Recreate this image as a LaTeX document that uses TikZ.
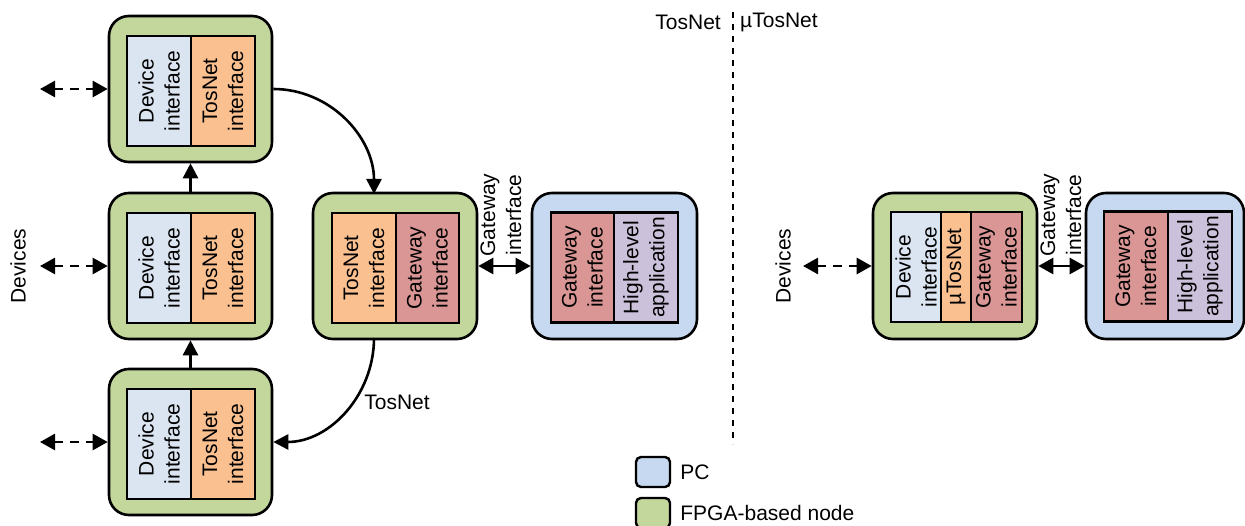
\documentclass[tikz,border=0pt]{standalone}
\usepackage{fontspec}
\setmainfont{Liberation Sans}
\usetikzlibrary{arrows.meta,positioning}

\definecolor{fpgagreen}{HTML}{C3D69B}
\definecolor{pcblue}{HTML}{C6D9F1}
\definecolor{devblue}{HTML}{DBE5F1}
\definecolor{tosorange}{HTML}{FAC090}
\definecolor{gwred}{HTML}{D99694}
\definecolor{applilac}{HTML}{CCC1DA}

\tikzset{
  nodebox/.style={draw, line width=2.6pt, rounded corners=20pt, minimum height=146pt},
  cell/.style={draw, line width=2.2pt, rotate=90, minimum width=110pt, inner sep=0pt,
    align=center, font=\fontsize{21}{26}\selectfont},
  txt/.style={inner sep=0pt, align=center, font=\fontsize{21}{26}\selectfont},
  legendbox/.style={draw, line width=2.4pt, rounded corners=5pt, minimum width=34pt, minimum height=30pt},
  arrowline/.style={-{Triangle[length=15pt,width=15pt]}, line width=2.6pt},
  botharrow/.style={{Triangle[length=15pt,width=16pt]}-{Triangle[length=15pt,width=16pt]}, line width=2.6pt},
  dasharrow/.style={botharrow, dash pattern=on 9pt off 7pt},
  divider/.style={line width=1.6pt, dash pattern=on 6pt off 6pt}
}

\begin{document}
\begin{tikzpicture}[x=1pt,y=-1pt]
  \useasboundingbox (0,0) rectangle (1245,526);

  % TosNet ring of FPGA nodes
  \node[nodebox, fill=fpgagreen, minimum width=163pt] (n1) at (190.5,89) {};
  \node[cell, fill=devblue, minimum height=64pt] (n1dev) at (159,91) {Device\\interface};
  \node[cell, fill=tosorange, minimum height=64pt] (n1tos) at (223,91) {TosNet\\interface};

  \node[nodebox, fill=fpgagreen, minimum width=163pt] (n2) at (190.5,266) {};
  \node[cell, fill=devblue, minimum height=64pt] (n2dev) at (159,268) {Device\\interface};
  \node[cell, fill=tosorange, minimum height=64pt] (n2tos) at (223,268) {TosNet\\interface};

  \node[nodebox, fill=fpgagreen, minimum width=163pt] (n3) at (190.5,442) {};
  \node[cell, fill=devblue, minimum height=64pt] (n3dev) at (159,444) {Device\\interface};
  \node[cell, fill=tosorange, minimum height=64pt] (n3tos) at (223,444) {TosNet\\interface};

  \node[nodebox, fill=fpgagreen, minimum width=164pt] (gw) at (395,266) {};
  \node[cell, fill=tosorange, minimum height=64pt] (gwtos) at (364,268) {TosNet\\interface};
  \node[cell, fill=gwred, minimum height=63pt] (gwgw) at (427.5,268) {Gateway\\interface};

  \node[nodebox, fill=pcblue, minimum width=165pt] (pc) at (614.5,266) {};
  \node[cell, fill=gwred, minimum height=63pt] (pcgw) at (582.5,267.5) {Gateway\\interface};
  \node[cell, fill=applilac, minimum height=64pt] (pcapp) at (646,267.5) {High-level\\application};

  % uTosNet
  \node[nodebox, fill=fpgagreen, minimum width=164pt] (un) at (955,266) {};
  \node[cell, fill=devblue, minimum height=50pt] (undev) at (916,267) {Device\\interface};
  \node[cell, fill=tosorange, minimum height=30pt] (untos) at (956,267) {µTosNet};
  \node[cell, fill=gwred, minimum height=51pt] (ungw) at (996.5,267) {Gateway\\interface};

  \node[nodebox, fill=pcblue, minimum width=158pt] (upc) at (1165,266) {};
  \node[cell, fill=gwred, minimum height=64pt] (upcgw) at (1136,266.5) {Gateway\\interface};
  \node[cell, fill=applilac, minimum height=64pt] (upcapp) at (1200,266.5) {High-level\\application};

  % devices
  \coordinate (dev1) at (40,89);
  \coordinate (dev2) at (40,266);
  \coordinate (dev3) at (40,442);
  \coordinate (dev4) at (803,266);
  \draw[dasharrow] (dev1) -- (n1);
  \draw[dasharrow] (dev2) -- (n2);
  \draw[dasharrow] (dev3) -- (n3);
  \draw[dasharrow] (dev4) -- (un);
  \node[txt, rotate=90] (devlbl) at (18,266) {Devices};
  \node[txt, rotate=90] (udevlbl) at (783,266) {Devices};

  % ring connections
  \coordinate (gwin) at (374,194);
  \coordinate (gwout) at (374,338);
  \draw[arrowline] (n3) -- (n2);
  \draw[arrowline] (n2) -- (n1);
  \draw[arrowline] (n1.east) to[out=0,in=90] (gwin);
  \draw[arrowline] (gwout) to[out=-90,in=0] (n3.east);
  \node[txt] (tosnetlbl) at (397,402) {TosNet};

  % gateway links
  \draw[botharrow] (gw) -- (pc);
  \draw[botharrow] (un) -- (upc);
  \node[txt, rotate=90] (gwlbl) at (501,215) {Gateway\\interface};
  \node[txt, rotate=90] (ugwlbl) at (1061,215) {Gateway\\interface};

  % divider
  \coordinate (divtop) at (733,12);
  \coordinate (divbot) at (733,444);
  \draw[divider] (divtop) -- (divbot);
  \node[txt, anchor=east] (tosnethead) at (721,22) {TosNet};
  \node[txt, anchor=west] (utosnethead) at (740,22) {µTosNet};

  % legend
  \node[legendbox, fill=pcblue] (lgpc) at (653,472) {};
  \node[txt, right=9pt of lgpc] (lgpctxt) {PC};
  \node[legendbox, fill=fpgagreen] (lgfpga) at (653,513) {};
  \node[txt, right=9pt of lgfpga] (lgfpgatxt) {FPGA-based node};
\end{tikzpicture}
\end{document}
